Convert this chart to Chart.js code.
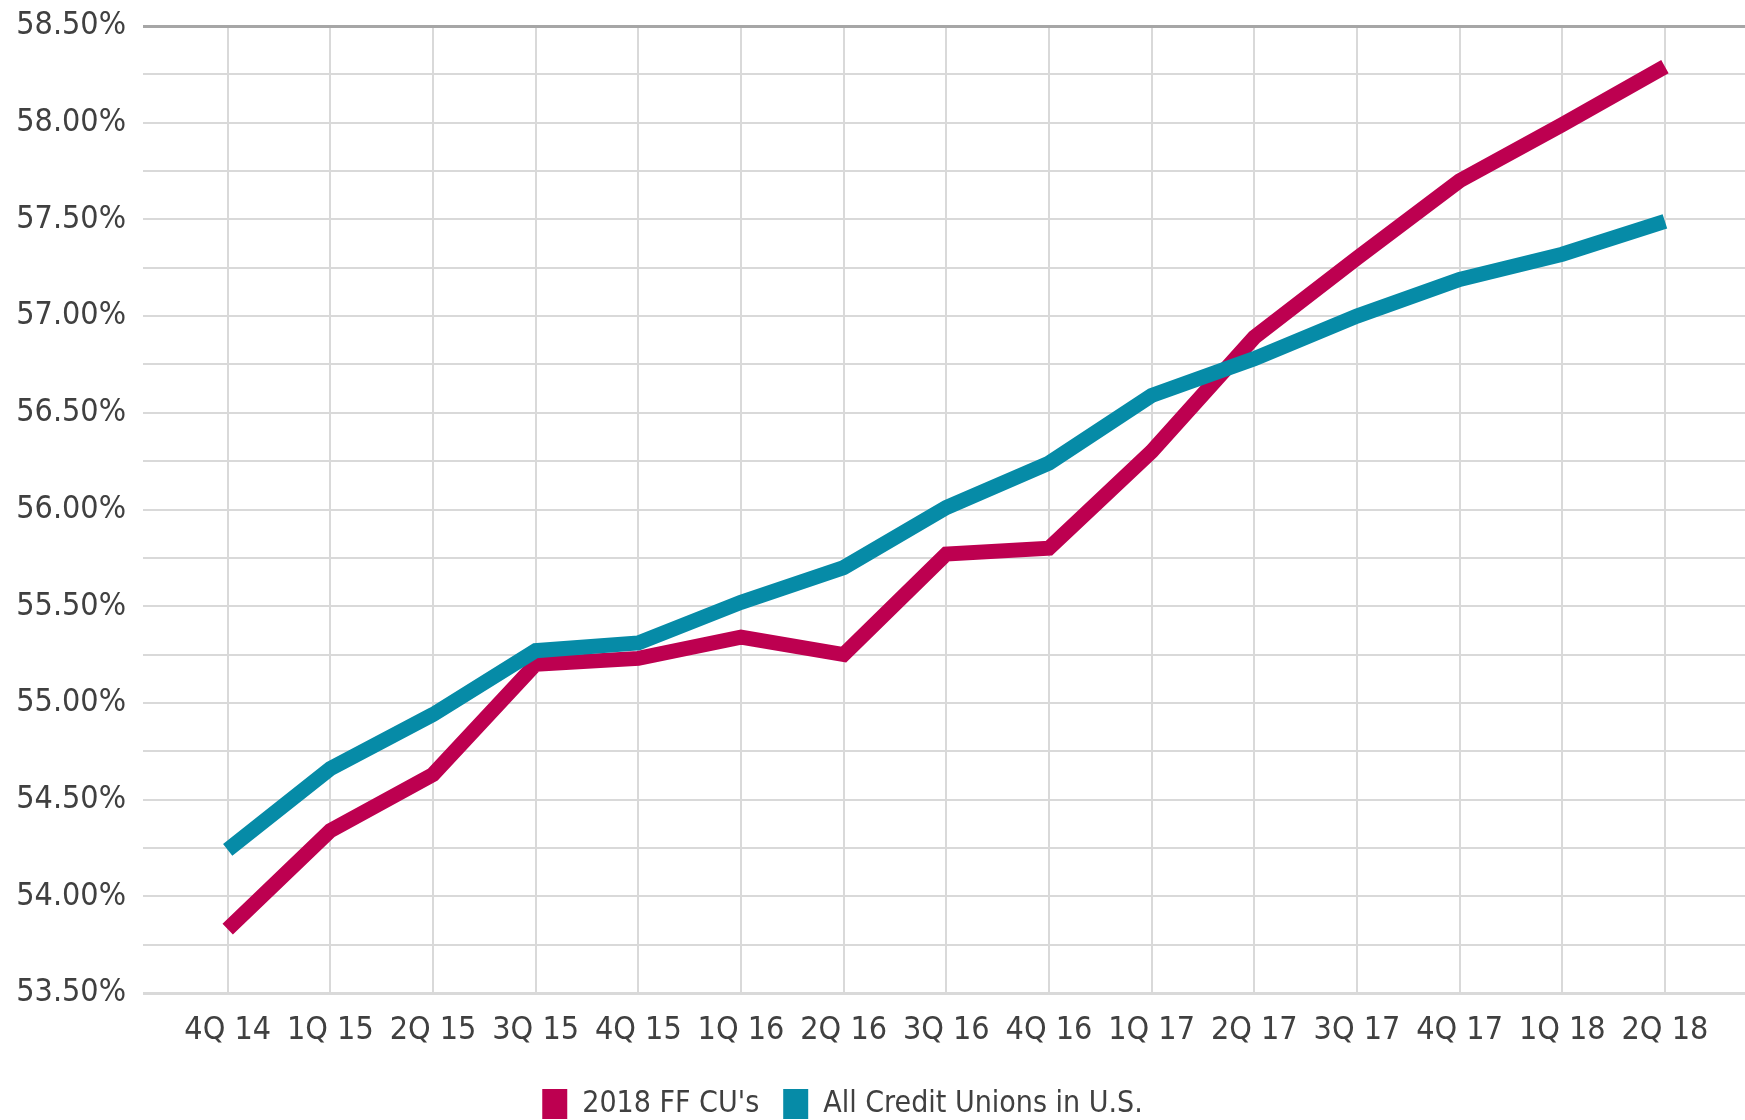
<!DOCTYPE html>
<html>
<head>
<meta charset="utf-8">
<script src="https://cdn.jsdelivr.net/npm/chart.js@4.4.1/dist/chart.umd.min.js"></script>
<style>
  html, body { margin: 0; padding: 0; background: #ffffff; }
  #wrap { width: 1745px; height: 1120px; position: relative; }
</style>
</head>
<body>
<div id="wrap"><canvas id="c"></canvas></div>
<script>
const categories = ['4Q 14','1Q 15','2Q 15','3Q 15','4Q 15','1Q 16','2Q 16','3Q 16','4Q 16','1Q 17','2Q 17','3Q 17','4Q 17','1Q 18','2Q 18'];
const ffCuValues = [53.83, 54.34, 54.63, 55.20, 55.23, 55.34, 55.25, 55.77, 55.80, 56.30, 56.89, 57.30, 57.70, 57.99, 58.29];
const allCuValues = [54.24, 54.66, 54.94, 55.27, 55.31, 55.52, 55.70, 56.01, 56.24, 56.59, 56.78, 57.00, 57.19, 57.32, 57.49];
const seriesNames = ["2018 FF CU's", 'All Credit Unions in U.S.'];
const yMin = 53.5, yMax = 58.5, yStep = 0.25;

const FONT = 'DejaVu Sans Condensed';
const TXT = '#404040';

const toPoints = vals => vals.map((v, i) => ({ x: i, y: v }));

const legendShift = {
  id: 'legendShift',
  afterLayout(chart) {
    const lg = chart.legend;
    if (!lg) return;
    const dx = -30, dy = 9;
    lg.left += dx; lg.right += dx;
    lg.top += dy; lg.bottom += dy;
  }
};

new Chart(document.getElementById('c'), {
  type: 'line',
  data: {
    datasets: [
      {
        label: seriesNames[0],
        data: toPoints(ffCuValues),
        borderColor: '#bd0050',
        backgroundColor: '#bd0050',
        borderWidth: 15,
        pointRadius: 0,
        borderCapStyle: 'butt',
        borderJoinStyle: 'miter',
        tension: 0,
        order: 1
      },
      {
        label: seriesNames[1],
        data: toPoints(allCuValues),
        borderColor: '#068ba7',
        backgroundColor: '#068ba7',
        borderWidth: 15,
        pointRadius: 0,
        borderCapStyle: 'butt',
        borderJoinStyle: 'miter',
        tension: 0,
        order: 0
      }
    ]
  },
  options: {
    responsive: true,
    maintainAspectRatio: false,
    animation: false,
    layout: { padding: { top: 26, left: 0, right: 0, bottom: 0 } },
    plugins: {
      tooltip: { enabled: false },
      legend: {
        position: 'bottom',
        labels: {
          sort: (a, b) => a.datasetIndex - b.datasetIndex,
          generateLabels: (chart) => Chart.defaults.plugins.legend.labels.generateLabels(chart)
            .map(l => Object.assign({}, l, { lineWidth: 0, strokeStyle: 'rgba(0,0,0,0)' })),
          boxWidth: 25,
          boxHeight: 30,
          padding: 24,
          color: TXT,
          font: { family: FONT, size: 30 }
        }
      }
    },
    scales: {
      x: {
        type: 'linear',
        min: -0.825,
        max: 14.78,
        afterBuildTicks: (scale) => { scale.ticks = categories.map((_, i) => ({ value: i })); },
        afterFit: (scale) => { scale.height = 63; scale.paddingLeft = 0; scale.paddingRight = 0; },
        border: { display: false },
        grid: { color: '#d9d9d9', lineWidth: 2, drawTicks: false },
        ticks: {
          autoSkip: false,
          maxRotation: 0,
          padding: 18,
          color: TXT,
          font: { family: FONT, size: 32 },
          callback: (v) => categories[Math.round(v)] ?? ''
        }
      },
      y: {
        min: yMin,
        max: yMax,
        afterFit: (scale) => { scale.width = 143; scale.paddingTop = 0; scale.paddingBottom = 0; },
        border: { display: false },
        grid: {
          drawTicks: false,
          color: (ctx) => (ctx.tick && Math.abs(ctx.tick.value - yMax) < 1e-6) ? '#a6a6a6' : '#d9d9d9',
          lineWidth: (ctx) => {
            if (!ctx.tick) return 2;
            if (Math.abs(ctx.tick.value - yMax) < 1e-6) return 3;
            if (Math.abs(ctx.tick.value - yMin) < 1e-6) return 3;
            return 2;
          }
        },
        ticks: {
          stepSize: yStep,
          padding: 17,
          color: TXT,
          font: { family: FONT, size: 32 },
          callback: (v) => (Math.round(v * 4) % 2 === 0) ? v.toFixed(2) + '%' : ''
        }
      }
    }
  },
  plugins: [legendShift]
});
</script>
</body>
</html>
